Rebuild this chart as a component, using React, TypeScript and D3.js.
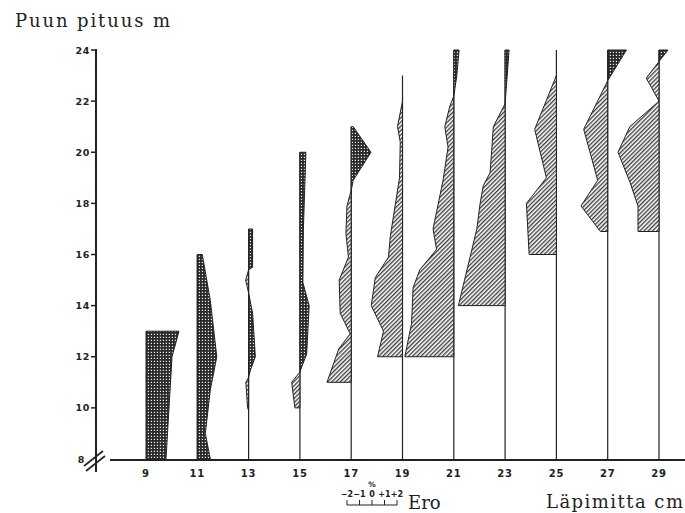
import { useMemo } from 'react';
import * as d3 from 'd3';

// Läpimittaluokat (cm) ja pystyviivojen yläpäät (m)
const categories = [9, 11, 13, 15, 17, 19, 21, 23, 25, 27, 29];
const lineTops = [13, 16, 17, 20, 21, 23, 24, 24, 24, 24, 24];
const heightTicks = [8, 10, 12, 14, 16, 18, 20, 22, 24];
const eroTicks = [-2, -1, 0, 1, 2];

// profiles: [height m, difference %]
const p9 = [[8, 1.6], [12, 2.08], [13, 2.64]];
const p11 = [[8, 1.04], [9, 0.64], [10.7, 1.04], [12, 1.56], [14.2, 1.04], [16, 0.4]];
const p13 = [[9.9, 0], [10, -0.08], [11, -0.22], [11.2, 0], [11.5, 0.16], [12, 0.54], [13.7, 0.32], [14.5, 0], [15, -0.24], [15.4, 0], [15.5, 0.32], [17, 0.32]];
const p15 = [[10, -0.4], [11, -0.66], [11.4, 0], [11.6, 0.14], [12.1, 0.54], [14, 0.74], [14.9, 0.24], [17, 0.28], [20, 0.48]];
const p17 = [[11, -1.94], [12.3, -1.0], [12.9, -0.08], [13.7, -0.88], [15, -0.96], [15.9, -0.22], [16.8, -0.42], [17.9, -0.34], [18.5, 0], [18.9, 0.16], [20, 1.58], [21, 0.16]];
const p19 = [[12, -2.0], [13, -1.52], [14, -2.5], [15.1, -2.18], [15.9, -1.12], [16.7, -0.98], [19, -0.24], [20.4, -0.18], [21, -0.4], [22, 0]];
const p21 = [[12, -3.92], [13.3, -3.38], [14.7, -3.26], [15.4, -2.72], [16.2, -1.38], [17, -1.66], [18.9, -0.86], [20.2, -0.46], [21, -0.72], [21.8, -0.32], [22.2, 0], [23, 0.24], [24, 0.42]];
const p23 = [[14, -3.74], [17, -2.26], [18, -2.0], [18.7, -1.74], [19.2, -1.2], [21, -0.94], [21.9, 0], [24, 0.32]];
const p25 = [[16, -2.18], [18, -2.4], [19, -0.8], [20.9, -1.74], [23, 0]];
const p27 = [[16.9, -0.58], [17.9, -2.14], [18.9, -0.8], [20.9, -1.92], [22.8, 0], [24, 1.5]];
const p29 = [[16.9, -1.68], [17.9, -1.68], [18.85, -2.34], [20, -3.28], [21, -2.34], [22, 0], [22.9, -1.02], [23.55, 0], [24, 0.72]];
const profiles = [p9, p11, p13, p15, p17, p19, p21, p23, p25, p27, p29];

const W = 685;
const H = 513;
const ink = '#222';
const PX_PER_PCT = 12.5;

export default function App() {
  const x = d3.scaleLinear().domain([9, 29]).range([146, 659]);
  const y = d3.scaleLinear().domain([8, 24]).range([459, 50]);
  const ero = d3.scaleLinear().domain([-2, 2]).range([372 - 2 * PX_PER_PCT, 372 + 2 * PX_PER_PCT]);

  const shapes = useMemo(() => profiles.map((p, i) => {
    const base = x(categories[i]);
    const pts: [number, number][] = [
      [base, y(p[0][0])],
      ...p.map(d => [base + d[1] * PX_PER_PCT, y(d[0])] as [number, number]),
      [base, y(p[p.length - 1][0])],
    ];
    const line = d3.line().curve(d3.curveLinearClosed);
    return { base, d: line(pts) || '' };
  }), []);

  const sans = '"DejaVu Sans", Verdana, sans-serif';
  const serif = '"DejaVu Serif", "Liberation Serif", serif';

  return (
    <svg width={W} height={H} style={{ position: 'absolute', left: 0, top: 0, background: '#fff' }}>
      <defs>
        <pattern id="dots" width="3" height="3" patternUnits="userSpaceOnUse">
          <rect width="3" height="3" fill="#2a2a2a" />
          <rect x="0.8" y="0.8" width="1.2" height="1.2" fill="#eee" />
        </pattern>
        <pattern id="hatch" width="3" height="3" patternUnits="userSpaceOnUse" patternTransform="rotate(45)">
          <rect width="3" height="3" fill="#fff" />
          <line x1="0.7" y1="0" x2="0.7" y2="3" stroke="#333" strokeWidth="1.3" />
        </pattern>
        {shapes.map((s, i) => (
          <g key={i}>
            <clipPath id={`neg${i}`}><rect x={0} y={0} width={s.base} height={H} /></clipPath>
            <clipPath id={`pos${i}`}><rect x={s.base} y={0} width={W - s.base} height={H} /></clipPath>
          </g>
        ))}
      </defs>

      <text x={15} y={27} fontFamily={serif} fontSize={18} fill={ink} textLength={155} lengthAdjust="spacing">Puun pituus m</text>

      {/* y axis */}
      <line x1={96} x2={96} y1={49} y2={472} stroke={ink} strokeWidth={2} />
      {heightTicks.map(t => (
        <g key={t}>
          {t !== 8 && <line x1={91} x2={96} y1={y(t)} y2={y(t)} stroke={ink} strokeWidth={1.5} />}
          <text x={t === 8 ? 85 : 90} y={y(t) + 3.5} textAnchor="end" fontFamily={sans} fontWeight="bold" fontSize={9.5} letterSpacing={0.6} fill={ink}>{t}</text>
        </g>
      ))}
      <line x1={84} y1={466} x2={103} y2={451} stroke={ink} strokeWidth={1.6} />
      <line x1={86} y1={471} x2={105} y2={456} stroke={ink} strokeWidth={1.6} />

      {/* x axis */}
      <line x1={110} x2={W} y1={460} y2={460} stroke={ink} strokeWidth={2} />
      {categories.map(c => (
        <text key={c} x={x(c)} y={477} textAnchor="middle" fontFamily={sans} fontWeight="bold" fontSize={10} letterSpacing={0.8} fill={ink}>{c}</text>
      ))}

      {/* category baselines */}
      {categories.map((c, i) => i > 0 && (
        <line key={c} x1={x(c)} x2={x(c)} y1={460} y2={y(lineTops[i])} stroke={ink} strokeWidth={1.2} />
      ))}

      {/* difference profiles */}
      {shapes.map((s, i) => (
        <g key={i}>
          <path d={s.d} fill="url(#hatch)" clipPath={`url(#neg${i})`} />
          <path d={s.d} fill="url(#dots)" clipPath={`url(#pos${i})`} />
          <path d={s.d} fill="none" stroke={ink} strokeWidth={1} strokeLinejoin="round" />
        </g>
      ))}

      {/* Ero scale */}
      <text x={ero(0)} y={487} textAnchor="middle" fontFamily={sans} fontWeight="bold" fontSize={7.5} fill={ink}>%</text>
      {eroTicks.map(t => (
        <text key={t} x={ero(t)} y={497} textAnchor="middle" fontFamily={sans} fontWeight="bold" fontSize={8} fill={ink}>
          {t > 0 ? `+${t}` : t < 0 ? `\u2212${-t}` : '0'}
        </text>
      ))}
      <line x1={ero(-2)} x2={ero(2)} y1={505} y2={505} stroke={ink} strokeWidth={1} />
      {eroTicks.map(t => (
        <line key={t} x1={ero(t)} x2={ero(t)} y1={500} y2={505} stroke={ink} strokeWidth={1} />
      ))}
      <text x={408} y={509} fontFamily={serif} fontSize={18} fill={ink}>Ero</text>

      <text x={546} y={508} fontFamily={serif} fontSize={18} fill={ink} textLength={137} lengthAdjust="spacing">Läpimitta cm</text>
    </svg>
  );
}
